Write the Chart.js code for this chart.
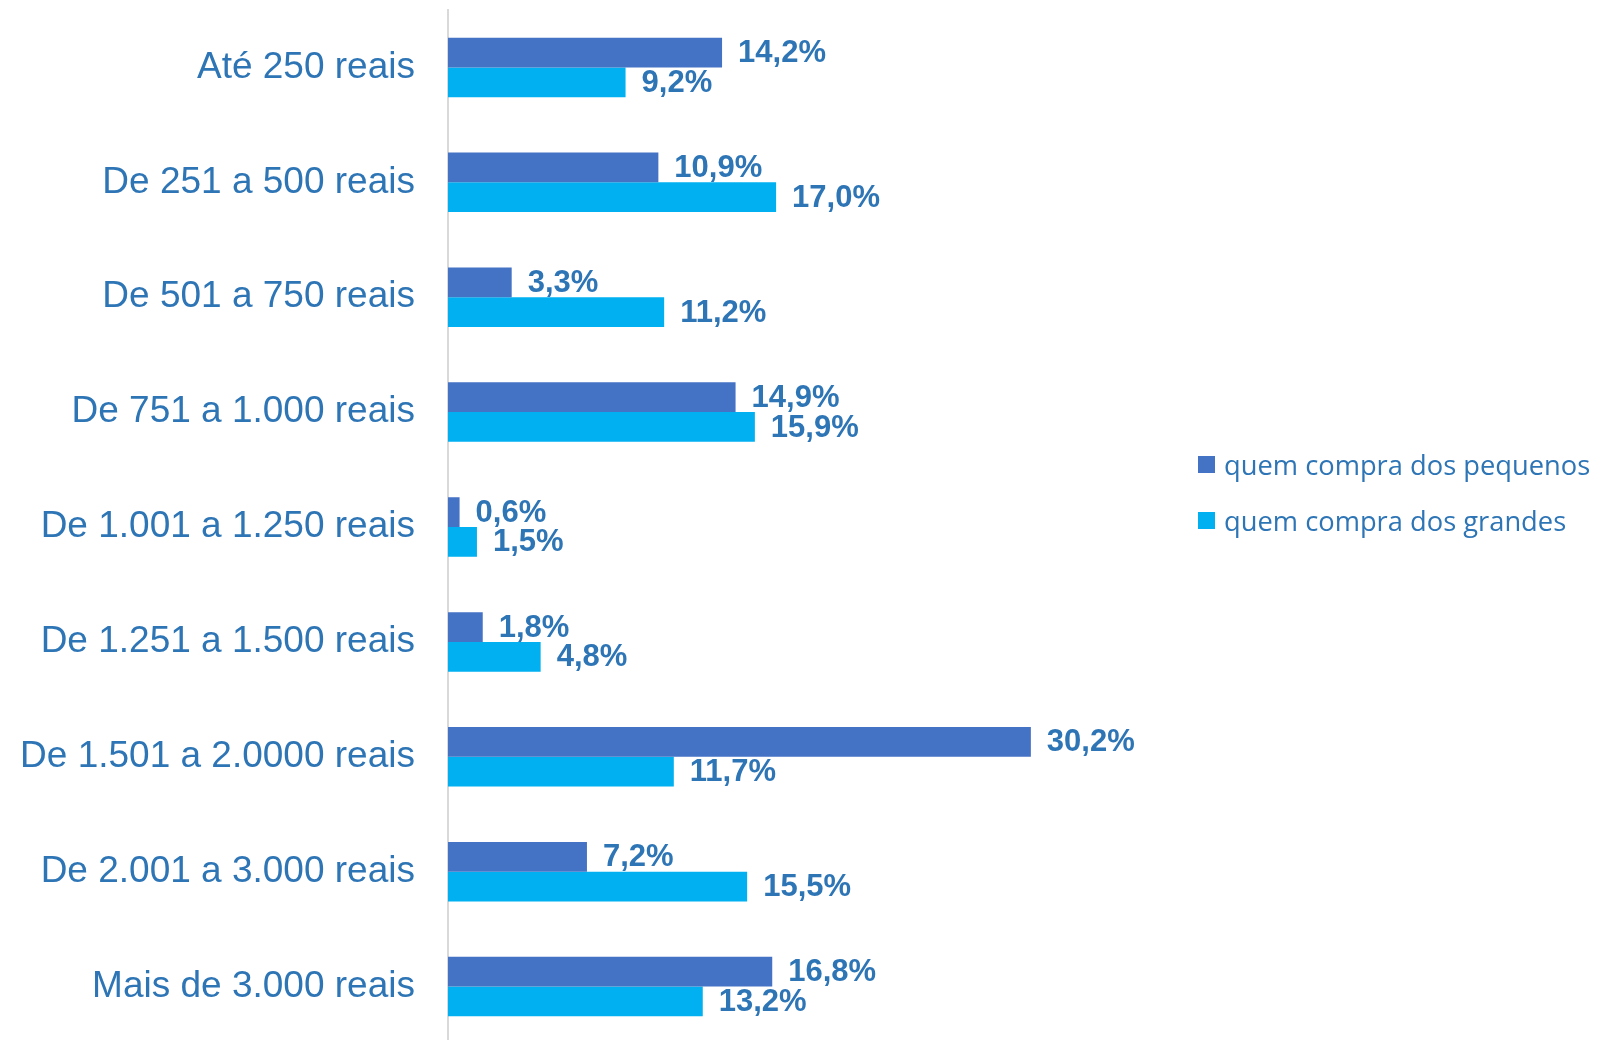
<!DOCTYPE html>
<html>
<head>
<meta charset="utf-8">
<title>Faixa de gasto</title>
<script src="https://cdn.jsdelivr.net/npm/chart.js@4.4.1/dist/chart.umd.min.js"></script>
<style>
    html, body {
        margin: 0;
        padding: 0;
        background: #ffffff;
        overflow: hidden;
    }
    #wrap {
        position: relative;
        width: 1597px;
        height: 1044px;
    }
    #legend {
        position: absolute;
        left: 1198px;
        top: 436px;
        font-family: 'Open Sans', sans-serif;
        font-size: 27.3px;
        color: #2E75B6;
    }
    .item {
        display: flex;
        align-items: center;
        height: 56px;
        white-space: nowrap;
    }
    .box {
        width: 17px;
        height: 17px;
        margin-right: 9px;
        flex: none;
    }
</style>
</head>
<body>
<div id="wrap">
    <canvas id="spendChart"></canvas>
    <div id="legend"></div>
</div>
<script>
// ===== DATA =====
const categories = [
    'Até 250 reais',
    'De 251 a 500 reais',
    'De 501 a 750 reais',
    'De 751 a 1.000 reais',
    'De 1.001 a 1.250 reais',
    'De 1.251 a 1.500 reais',
    'De 1.501 a 2.0000 reais',
    'De 2.001 a 3.000 reais',
    'Mais de 3.000 reais'
];
const seriesNames = ['quem compra dos pequenos', 'quem compra dos grandes'];
const pequenos = [14.2, 10.9, 3.3, 14.9, 0.6, 1.8, 30.2, 7.2, 16.8];
const grandes = [9.2, 17.0, 11.2, 15.9, 1.5, 4.8, 11.7, 15.5, 13.2];
const seriesColors = ['#4472C4', '#00B0F0'];

const textBlue = '#2E75B6';

// ===== VALUE LABELS AT BAR END =====
const barValueLabels = {
    id: 'barValueLabels',
    afterDatasetsDraw(chart) {
        const ctx = chart.ctx;
        ctx.save();
        ctx.font = 'bold 31px "Liberation Sans", Arial, sans-serif';
        ctx.fillStyle = textBlue;
        ctx.textAlign = 'left';
        ctx.textBaseline = 'middle';
        chart.data.datasets.forEach(function(ds, i) {
            const meta = chart.getDatasetMeta(i);
            meta.data.forEach(function(bar, j) {
                const txt = ds.data[j].toFixed(1).replace('.', ',') + '%';
                ctx.fillText(txt, bar.x + 16, bar.y + 1);
            });
        });
        ctx.restore();
    }
};

// ===== CHART =====
const ctx = document.getElementById('spendChart');
new Chart(ctx.getContext('2d'), {
    type: 'bar',
    data: {
        labels: categories,
        datasets: [{
            label: seriesNames[0],
            data: pequenos,
            backgroundColor: seriesColors[0],
            categoryPercentage: 0.518,
            barPercentage: 1.0
        }, {
            label: seriesNames[1],
            data: grandes,
            backgroundColor: seriesColors[1],
            categoryPercentage: 0.518,
            barPercentage: 1.0
        }]
    },
    options: {
        indexAxis: 'y',
        responsive: true,
        maintainAspectRatio: false,
        animation: false,
        layout: {
            padding: { top: 10, right: 377, bottom: 0, left: 0 }
        },
        plugins: {
            legend: { display: false },
            tooltip: { enabled: false }
        },
        scales: {
            x: {
                display: false,
                min: 0,
                max: 40
            },
            y: {
                grid: { display: false, drawTicks: false },
                border: { display: true, color: '#D9D9D9', width: 2 },
                ticks: {
                    padding: 33,
                    color: textBlue,
                    font: { family: '"Liberation Sans", Arial, sans-serif', size: 37 }
                },
                afterFit: function(scale) {
                    // fixed label column, and no extra room above/below for label halves
                    scale.width = 448;
                    scale.paddingTop = 0;
                    scale.paddingBottom = 0;
                }
            }
        }
    },
    plugins: [barValueLabels]
});

// ===== LEGEND =====
const legend = document.getElementById('legend');
seriesNames.forEach(function(name, i) {
    const row = document.createElement('div');
    row.className = 'item';
    const box = document.createElement('span');
    box.className = 'box';
    box.style.background = seriesColors[i];
    const label = document.createElement('span');
    label.textContent = name;
    row.appendChild(box);
    row.appendChild(label);
    legend.appendChild(row);
});
</script>
</body>
</html>
